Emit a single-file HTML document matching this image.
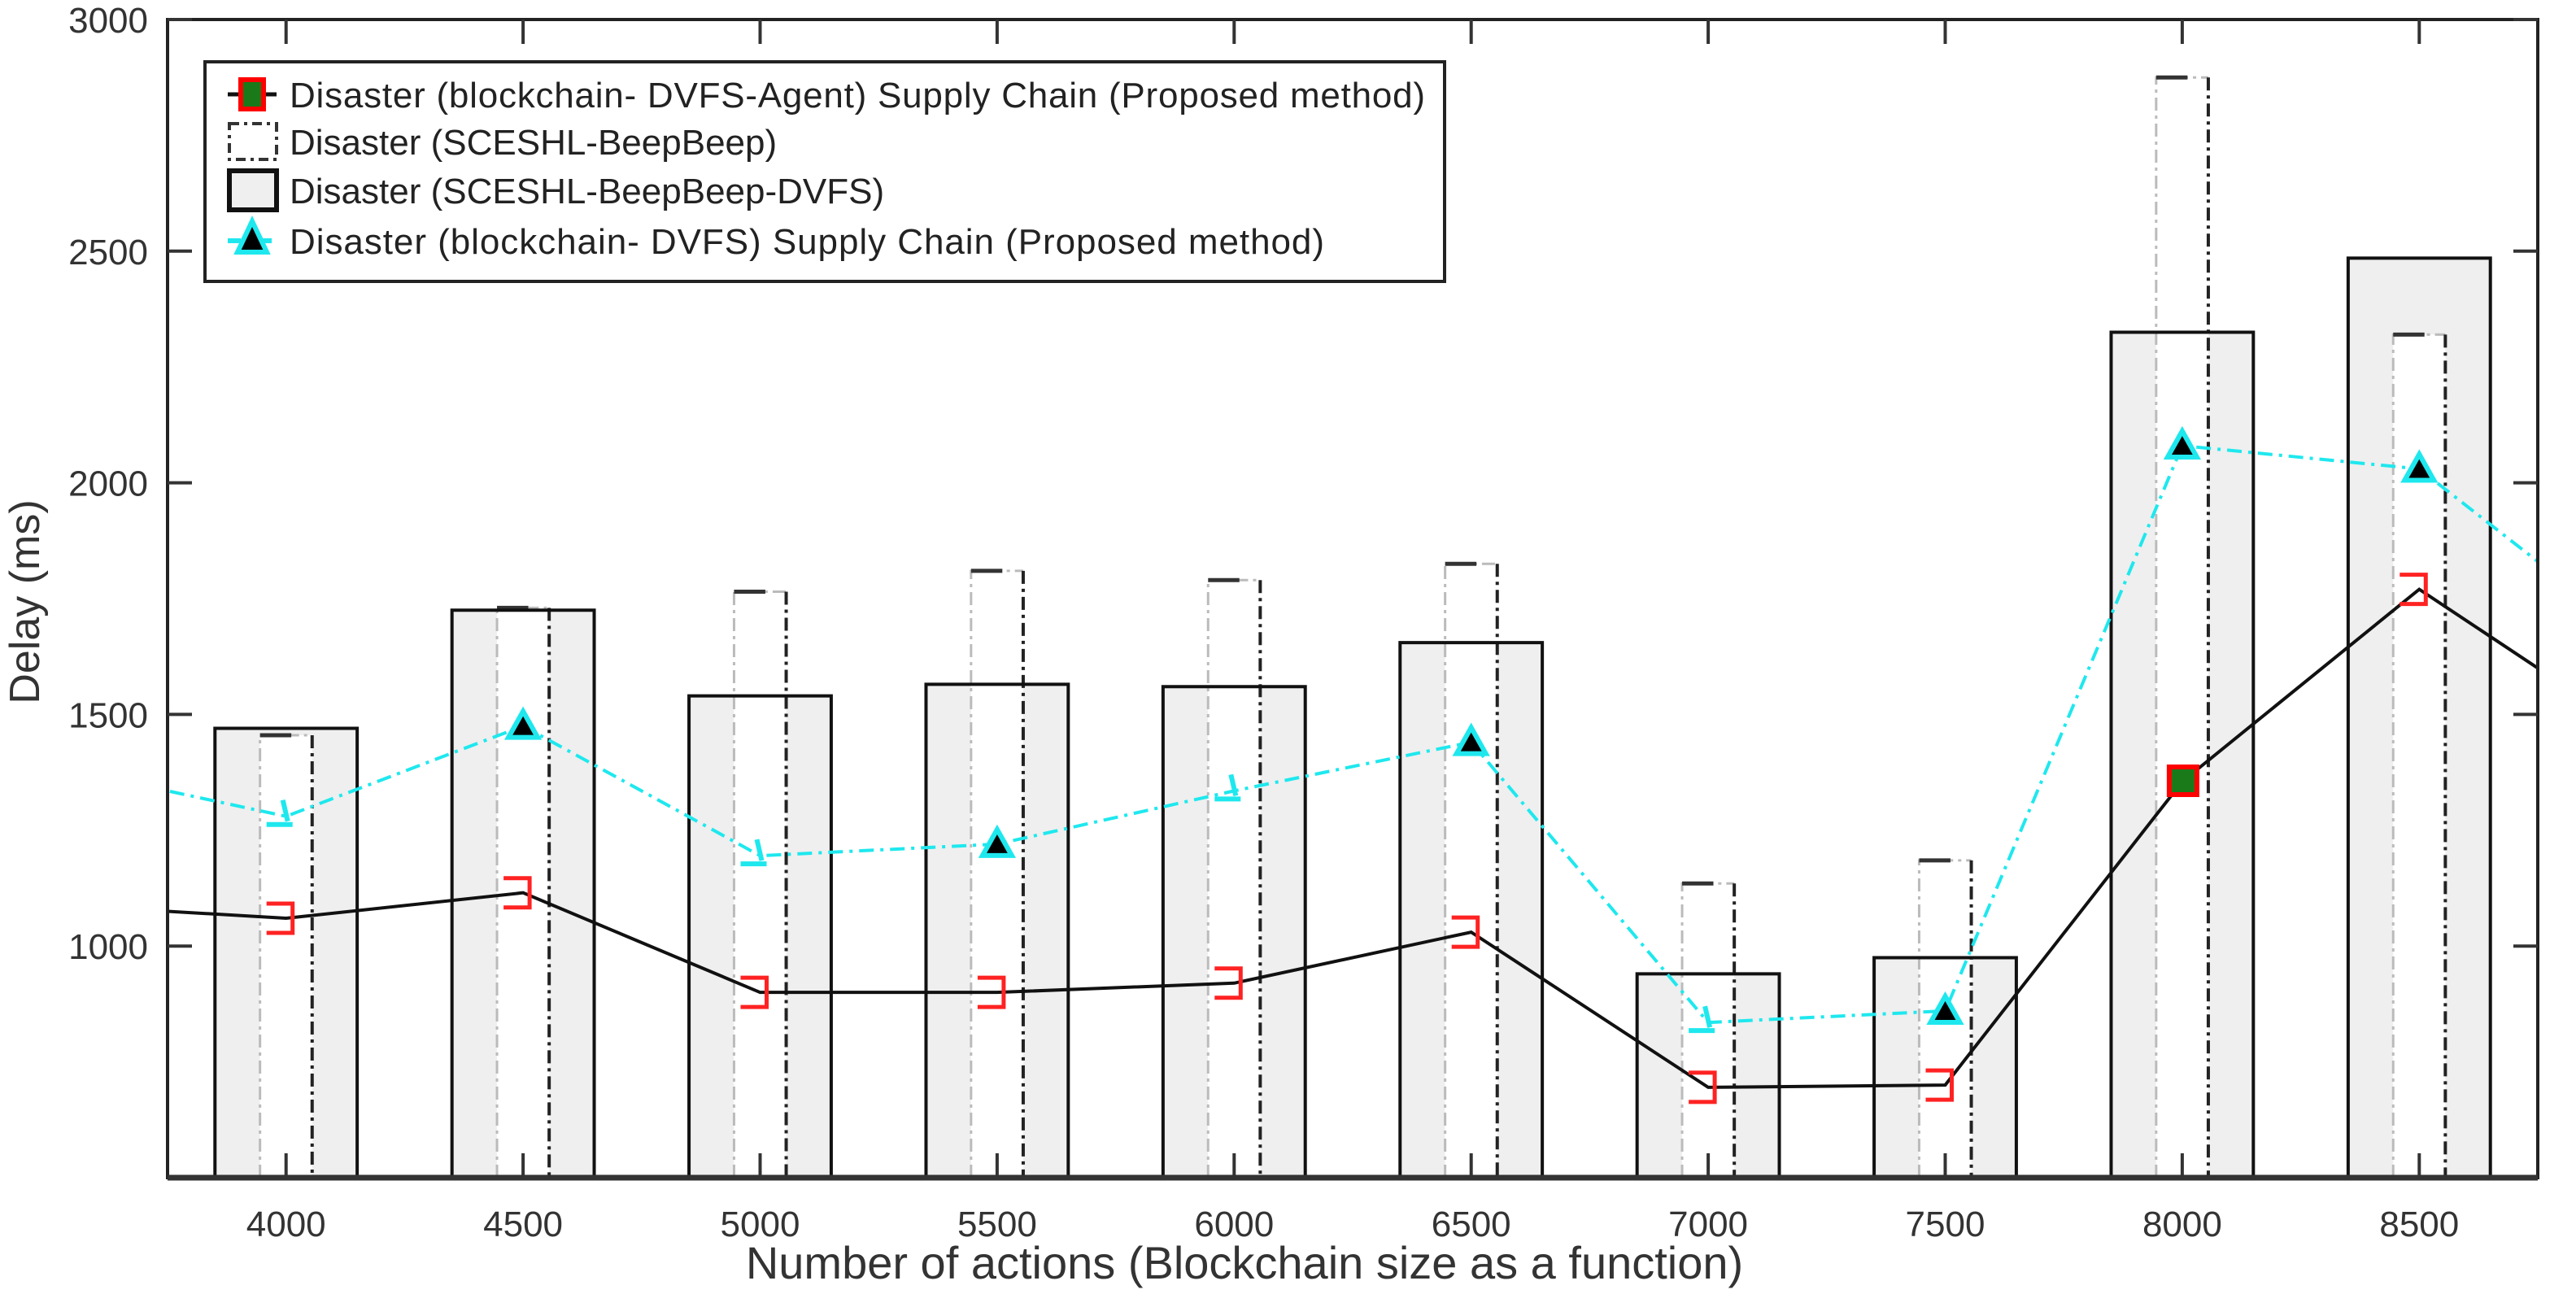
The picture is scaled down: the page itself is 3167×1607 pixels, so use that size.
<!DOCTYPE html>
<html><head><meta charset="utf-8"><style>
html,body{margin:0;padding:0;background:#fff;}
svg{display:block;font-family:"Liberation Sans",Arial,sans-serif;}
</style></head><body>
<svg id="chart" width="3167" height="1607" viewBox="0 0 1583.5 803.5" xmlns="http://www.w3.org/2000/svg">
<g id="bars"></g>
<g id="lines"></g>
<g id="axes"></g>
<g id="legend"></g>
</svg>
<script>
const categories = [4000,4500,5000,5500,6000,6500,7000,7500,8000,8500];
const dvfsBars = [1470,1725,1540,1565,1560,1655,940,975,2325,2485];
const beepBars = [1455,1730,1765,1810,1790,1825,1135,1185,2875,2320];
const agentLine = [1060,1115,900,900,920,1030,695,700,1355,1770];
const dvfsLine = [1280,1475,1195,1220,1335,1440,835,860,2080,2030];
const agentEdge = [1090,1430];
const dvfsEdge = [1390,1630];
const yTicks = [1000,1500,2000,2500,3000];
const xTicks = [4000,4500,5000,5500,6000,6500,7000,7500,8000,8500];

const L=103,R=1560,T=12,B=724;
const xMin=3750,xMax=8750,yMin=500,yMax=3000;
const X=v=>L+(v-xMin)/(xMax-xMin)*(R-L);
const Y=v=>B-(v-yMin)/(yMax-yMin)*(B-T);
const NS="http://www.w3.org/2000/svg";
function mk(tag,attrs,parent,text){const e=document.createElementNS(NS,tag);for(const k in attrs)e.setAttribute(k,attrs[k]);if(text!==undefined)e.textContent=text;parent.appendChild(e);return e;}
const gb=document.getElementById('bars'),gl=document.getElementById('lines'),ga=document.getElementById('axes'),gg=document.getElementById('legend');
mk('clipPath',{id:'clip'},document.getElementById('chart'));
mk('rect',{x:L,y:T,width:R-L,height:B-T},document.getElementById('clip'));
gl.setAttribute('clip-path','url(#clip)');

const wW=300,nW=110;
categories.forEach((c,i)=>{
  const x0=X(c-wW/2),x1=X(c+wW/2),y=Y(dvfsBars[i]);
  const r=mk('rect',{x:x0,y:y,width:x1-x0,height:B-y,fill:'#efefef',stroke:'none'},gb);
  
  
});
categories.forEach((c,i)=>{
  const x0=X(c-nW/2),x1=X(c+nW/2),y=Y(beepBars[i]);
  const r=mk('rect',{x:x0,y:y,width:x1-x0,height:B-y,fill:'#fff',stroke:'none'},gb);
  
  
  mk('path',{d:`M${x0},${B}V${y}H${x1}`,fill:'none',stroke:'#bbb','stroke-width':1.5,'stroke-dasharray':'8,3,2,3'},gb);
  mk('path',{d:`M${x1},${y}V${B}`,fill:'none',stroke:'#222','stroke-width':2,'stroke-dasharray':'8,3,2,3'},gb);
  mk('path',{d:`M${x0},${y}H${x0+(x1-x0)*0.6}`,fill:'none',stroke:'#333','stroke-width':2.5},gb);
});
categories.forEach((c,i)=>{
  const x0=X(c-wW/2),x1=X(c+wW/2),y=Y(dvfsBars[i]);
  mk('path',{d:`M${x0},${B}V${y}H${x1}V${B}`,fill:'none',stroke:'#111','stroke-width':2},gb);
});

let pts=[[X(3500),Y(agentEdge[0])]].concat(categories.map((c,i)=>[X(c),Y(agentLine[i])])).concat([[X(9000),Y(agentEdge[1])]]);
let p=mk('polyline',{points:pts.map(q=>q.join(',')).join(' '),fill:'none',stroke:'#111','stroke-width':2},gl);


categories.forEach((c,i)=>{
  const x=X(c)-4,y=Y(agentLine[i]);
  if(c===8000){
    const m=mk('rect',{x:x-4,y:y-9,width:17,height:17,fill:'#1a7a1a',stroke:'#f00','stroke-width':3},gl);
    
    
  } else {
    const m=mk('path',{d:`M${x-8},${y-9}H${x+8}V${y+9}H${x-8}`,fill:'none',stroke:'#f22','stroke-width':2.5},gl);
    
    
  }
});
pts=[[X(3500),Y(dvfsEdge[0])]].concat(categories.map((c,i)=>[X(c),Y(dvfsLine[i])])).concat([[X(9000),Y(dvfsEdge[1])]]);
p=mk('polyline',{points:pts.map(q=>q.join(',')).join(' '),fill:'none',stroke:'#1ee8ee','stroke-width':2,'stroke-dasharray':'9,4,2,4'},gl);


categories.forEach((c,i)=>{
  const x=X(c),y=Y(dvfsLine[i]);
  if(i%2===1||c>=8000){
    const m=mk('path',{d:`M${x},${y-9}L${x+9},${y+7}H${x-9}Z`,fill:'#000',stroke:'#1ee8ee','stroke-width':3},gl);
    
    
  } else {
    const m=mk('path',{d:`M${x-2},${y-10}L${x+1},${y+3}M${x-12},${y+5}H${x+4}`,fill:'none',stroke:'#1ee8ee','stroke-width':3},gl);
    
    
  }
});

mk('rect',{x:L,y:T,width:R-L,height:B-T,fill:'none',stroke:'#222','stroke-width':2},ga);
mk('line',{x1:L,y1:B,x2:R,y2:B,stroke:'#333','stroke-width':3.5},ga);
yTicks.forEach(v=>{
  mk('line',{x1:L,y1:Y(v),x2:L+15,y2:Y(v),stroke:'#333','stroke-width':2},ga);
  mk('line',{x1:R,y1:Y(v),x2:R-15,y2:Y(v),stroke:'#333','stroke-width':2},ga);
  const t=mk('text',{x:L-12,y:Y(v)+8,'text-anchor':'end','font-size':22,fill:'#333'},ga,String(v));
  
  
});
xTicks.forEach(v=>{
  mk('line',{x1:X(v),y1:B,x2:X(v),y2:B-15,stroke:'#333','stroke-width':2},ga);
  mk('line',{x1:X(v),y1:T,x2:X(v),y2:T+15,stroke:'#333','stroke-width':2},ga);
  const t=mk('text',{x:X(v),y:760,'text-anchor':'middle','font-size':22,fill:'#333'},ga,String(v));
  
  
});
let t=mk('text',{x:765,y:786,'text-anchor':'middle','font-size':28,fill:'#333'},ga,'Number of actions (Blockchain size as a function)');


t=mk('text',{x:0,y:0,'text-anchor':'middle','font-size':26,fill:'#333',transform:'translate(24,370) rotate(-90)'},ga,'Delay (ms)');



mk('rect',{x:126,y:38,width:762,height:135,fill:'#fff',stroke:'#222','stroke-width':2},gg);
const rowsY=[58,87,117,148];
const labels=['Disaster (blockchain- DVFS-Agent) Supply Chain (Proposed method)','Disaster (SCESHL-BeepBeep)','Disaster (SCESHL-BeepBeep-DVFS)','Disaster (blockchain- DVFS) Supply Chain (Proposed method)'];
mk('line',{x1:140,y1:rowsY[0],x2:170,y2:rowsY[0],stroke:'#111','stroke-width':2.5},gg);
mk('rect',{x:148,y:rowsY[0]-9,width:14,height:18,fill:'#1a7a1a',stroke:'#f00','stroke-width':3},gg);
mk('rect',{x:141,y:rowsY[1]-11,width:29,height:22,fill:'#fff',stroke:'#333','stroke-width':2,'stroke-dasharray':'6,3,2,3'},gg);
mk('rect',{x:141,y:rowsY[2]-12,width:29,height:24,fill:'#efefef',stroke:'#111','stroke-width':3},gg);
mk('line',{x1:140,y1:rowsY[3],x2:170,y2:rowsY[3],stroke:'#1ee8ee','stroke-width':3,'stroke-dasharray':'8,4,3,4'},gg);
mk('path',{d:`M155,${rowsY[3]-12}L164,${rowsY[3]+7}H146Z`,fill:'#000',stroke:'#1ee8ee','stroke-width':3},gg);
labels.forEach((s,i)=>{
  const e=mk('text',{x:178,y:rowsY[i]+8,'font-size':22,fill:'#222',textLength:i==0?698:(i==3?636:undefined)},gg,s);
  if(i==1||i==2)e.removeAttribute('textLength');
  
  
});
</script>
</body></html>
